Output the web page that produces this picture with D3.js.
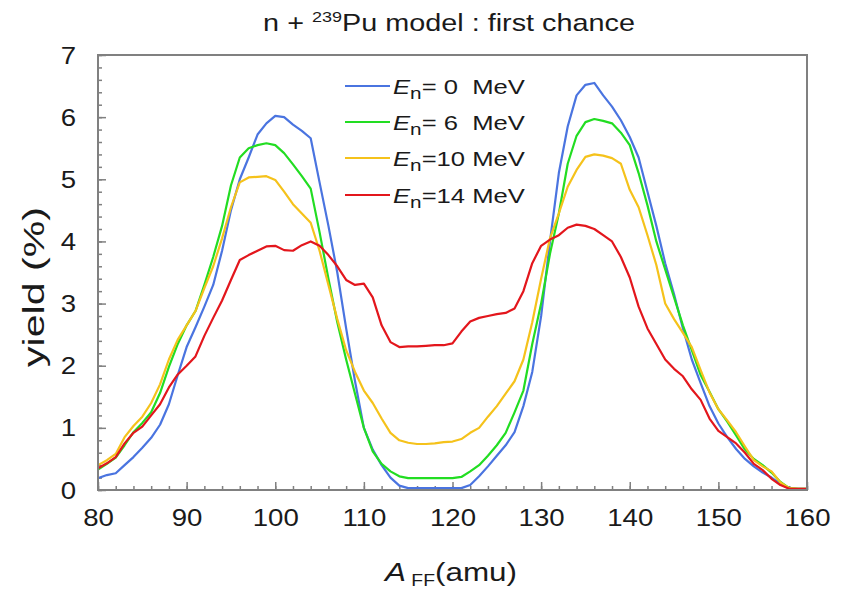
<!DOCTYPE html>
<html><head><meta charset="utf-8">
<script src="https://cdn.jsdelivr.net/npm/d3@7"></script>
<style>
body{margin:0;background:#fff}
svg{display:block}
text{font-family:"Liberation Sans",Arial,sans-serif;fill:#1a1a1a}
</style>
</head><body>
<svg id="chart" width="844" height="592"></svg>
<script>
// ---- data ----
const massNumbers = [80,81,82,83,84,85,86,87,88,89,90,91,92,93,94,95,96,97,98,99,
  100,101,102,103,104,105,106,107,108,109,110,111,112,113,114,115,116,117,118,119,
  120,121,122,123,124,125,126,127,128,129,130,131,132,133,134,135,136,137,138,139,
  140,141,142,143,144,145,146,147,148,149,150,151,152,153,154,155,156,157,158,159,160];

const yieldE0 = [0.19,0.24,0.27,0.40,0.53,0.68,0.84,1.05,1.38,1.85,
  2.30,2.62,2.95,3.30,3.85,4.50,5.00,5.35,5.72,5.90,
  6.02,6.00,5.88,5.78,5.66,4.95,4.25,3.50,2.60,1.75,
  1.00,0.65,0.40,0.20,0.07,0.03,0.03,0.03,0.03,0.03,
  0.03,0.03,0.08,0.22,0.38,0.55,0.72,0.93,1.35,1.90,
  2.80,4.00,5.10,5.85,6.35,6.52,6.55,6.35,6.17,5.95,
  5.68,5.35,4.80,4.25,3.65,3.15,2.60,2.10,1.72,1.35,
  1.07,0.85,0.66,0.50,0.38,0.28,0.20,0.10,0.02,0.02,0.02];

const yieldE6 = [0.33,0.42,0.52,0.72,0.93,1.08,1.25,1.56,1.98,2.35,
  2.65,2.88,3.30,3.75,4.25,4.90,5.35,5.50,5.55,5.58,
  5.55,5.42,5.24,5.05,4.85,4.15,3.40,2.70,2.10,1.55,
  1.00,0.62,0.42,0.30,0.22,0.19,0.19,0.19,0.19,0.19,
  0.19,0.21,0.30,0.40,0.55,0.72,0.92,1.25,1.60,2.35,
  3.00,3.80,4.45,5.25,5.70,5.92,5.97,5.94,5.90,5.75,
  5.55,5.10,4.58,4.00,3.55,3.10,2.65,2.25,1.85,1.58,
  1.30,1.10,0.88,0.65,0.50,0.40,0.28,0.13,0.03,0.02,0.02];

const yieldE10 = [0.40,0.48,0.58,0.85,1.03,1.18,1.40,1.70,2.10,2.42,
  2.65,2.88,3.25,3.60,4.05,4.55,4.95,5.03,5.04,5.05,
  4.99,4.80,4.60,4.45,4.30,3.85,3.30,2.75,2.25,1.90,
  1.60,1.40,1.15,0.92,0.80,0.76,0.74,0.74,0.75,0.77,
  0.78,0.82,0.92,1.00,1.18,1.35,1.55,1.75,2.10,2.70,
  3.40,4.05,4.45,4.88,5.15,5.36,5.40,5.38,5.34,5.25,
  4.83,4.55,4.10,3.62,3.00,2.75,2.53,2.30,1.93,1.57,
  1.30,1.12,0.93,0.70,0.48,0.38,0.30,0.12,0.03,0.02,0.02];

const yieldE14 = [0.35,0.43,0.53,0.75,0.92,1.02,1.20,1.38,1.65,1.86,
  2.00,2.15,2.48,2.77,3.05,3.38,3.70,3.78,3.85,3.92,
  3.93,3.86,3.85,3.94,4.00,3.93,3.78,3.60,3.38,3.30,
  3.32,3.10,2.65,2.38,2.30,2.31,2.31,2.32,2.33,2.33,
  2.36,2.55,2.71,2.77,2.80,2.83,2.85,2.92,3.20,3.65,
  3.93,4.03,4.10,4.22,4.27,4.25,4.20,4.10,4.00,3.75,
  3.42,2.95,2.60,2.35,2.10,1.95,1.83,1.62,1.45,1.15,
  0.95,0.85,0.75,0.60,0.42,0.32,0.18,0.08,0.02,0.02,0.02];

const seriesLabels = ["= 0  MeV", "= 6  MeV", "=10 MeV", "=14 MeV"];
const seriesColors = ["#4a74e0", "#22dd22", "#f5c21b", "#e3161c"];
const xTicks = [80,90,100,110,120,130,140,150,160];
const yTicks = [0,1,2,3,4,5,6,7];

const seriesValues = [yieldE0, yieldE6, yieldE10, yieldE14];

// ---- layout ----
const svg = d3.select("#chart");
const X0 = 98, X1 = 807, Y0 = 490, Y1 = 55;
const x = d3.scaleLinear().domain([80,160]).range([X0,X1]);
const y = d3.scaleLinear().domain([0,7]).range([Y0,Y1]);
const STRETCH = 1.2;
const gray = "#808080";

// minor ticks
svg.append("g").attr("transform",`translate(0,${Y0})`)
  .call(d3.axisBottom(x).tickValues(d3.range(80,161,2)).tickSize(-4).tickFormat(""))
  .call(g=>{g.select(".domain").remove(); g.selectAll("line").attr("stroke",gray).attr("stroke-width",1.5);});
svg.append("g").attr("transform",`translate(${X0},0)`)
  .call(d3.axisLeft(y).tickValues(d3.range(0,7.01,0.2)).tickSize(-4).tickFormat(""))
  .call(g=>{g.select(".domain").remove(); g.selectAll("line").attr("stroke",gray).attr("stroke-width",1.5);});

// major ticks + labels
const xAxis = svg.append("g").attr("transform",`translate(0,${Y0})`)
  .call(d3.axisBottom(x).tickValues(xTicks).tickSize(-8).tickPadding(0).tickFormat(d3.format("d")));
xAxis.select(".domain").remove();
xAxis.selectAll("line").attr("stroke",gray).attr("stroke-width",1.5);
xAxis.selectAll("text").attr("y",0).attr("dy",0)
  .attr("transform",`translate(0,36) scale(${STRETCH},1)`)
  .style("font-size","23px").attr("fill","#1a1a1a");

const yAxis = svg.append("g").attr("transform",`translate(${X0},0)`)
  .call(d3.axisLeft(y).tickValues(yTicks).tickSize(-8).tickPadding(0).tickFormat(d3.format("d")));
yAxis.select(".domain").remove();
yAxis.selectAll("line").attr("stroke",gray).attr("stroke-width",1.5);
yAxis.selectAll("text").attr("x",0).attr("dy",0)
  .attr("transform",`translate(-22,8) scale(${STRETCH},1)`)
  .style("font-size","23px").attr("fill","#1a1a1a");

// lines
svg.append("defs").append("clipPath").attr("id","clip")
  .append("rect").attr("x",X0).attr("y",Y1).attr("width",X1-X0).attr("height",Y0-Y1);
const line = d3.line().x((d,i)=>x(massNumbers[i])).y(d=>y(d));
svg.append("g").attr("clip-path","url(#clip)")
  .selectAll("path").data(seriesValues).join("path")
  .attr("d",line).attr("fill","none")
  .attr("stroke",(d,i)=>seriesColors[i]).attr("stroke-width",2.2)
  .attr("stroke-linejoin","round");

// frame
svg.append("rect").attr("x",X0).attr("y",Y1).attr("width",X1-X0).attr("height",Y0-Y1)
  .attr("fill","none").attr("stroke",gray).attr("stroke-width",2);

function fit(sel, target, cx, cy, rot){
  const w = sel.node().getComputedTextLength();
  sel.attr("transform",`translate(${cx},${cy}) rotate(${rot}) scale(${target/w},1)`);
}

// title
const title = svg.append("text").attr("text-anchor","middle").style("font-size","24px");
title.append("tspan").text("n + ");
title.append("tspan").text("239").style("font-size","15px").attr("dy",-9);
title.append("tspan").text("Pu model : first chance").attr("dy",9);
fit(title, 372, 449, 31, 0);

// x label
const xl = svg.append("text").attr("text-anchor","middle").style("font-size","26px");
xl.append("tspan").text("A").style("font-style","italic");
xl.append("tspan").text(" FF").style("font-size","16px").attr("dy",5);
xl.append("tspan").text("(amu)").attr("dy",-5);
fit(xl, 132, 451, 581, 0);

// y label
const yl = svg.append("text").attr("text-anchor","middle").style("font-size","29px").text("yield (%)");
fit(yl, 160, 44, 287, -90);

// legend
const legRows = [86, 122, 158, 195];
const leg = svg.append("g").selectAll("g").data(seriesLabels).join("g")
  .attr("transform",(d,i)=>`translate(0,${legRows[i]})`);
leg.append("line").attr("x1",345).attr("x2",390).attr("y1",0).attr("y2",0)
  .attr("stroke",(d,i)=>seriesColors[i]).attr("stroke-width",2.2);
const lt = leg.append("text").attr("transform",`translate(393,8) scale(1.22,1)`)
  .style("font-size","21px").style("white-space","pre");
lt.append("tspan").text("E").style("font-style","italic");
lt.append("tspan").text("n").style("font-size","17px").attr("dy",5);
lt.append("tspan").text(d=>d).attr("dy",-5);
</script>
</body></html>
